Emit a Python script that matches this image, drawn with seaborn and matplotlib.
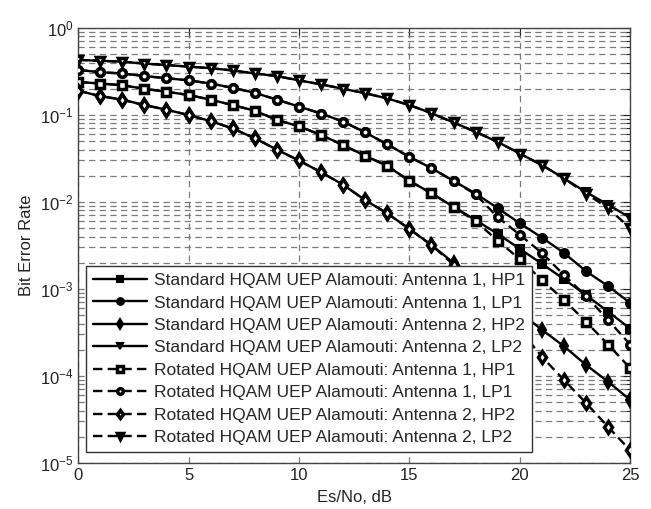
import matplotlib
matplotlib.use('Agg')
import matplotlib.pyplot as plt
import seaborn as sns
import pandas as pd
from matplotlib.ticker import LogLocator, NullFormatter


snr_db = list(range(26))

std_hp1 = [0.24, 0.23, 0.22, 0.20, 0.185, 0.17, 0.15, 0.13, 0.112, 0.088, 0.074, 0.059, 0.045,
           0.034, 0.026, 0.0175, 0.0126, 0.0088, 0.0062, 0.0043, 0.0029, 0.00195, 0.0013,
           0.00085, 0.00055, 0.00035]
std_lp1 = [0.33, 0.31, 0.30, 0.28, 0.265, 0.25, 0.23, 0.205, 0.18, 0.15, 0.125, 0.104, 0.084,
           0.063, 0.046, 0.033, 0.0245, 0.0175, 0.0125, 0.0085, 0.0057, 0.0039, 0.0026,
           0.0016, 0.00108, 0.00069]
std_hp2 = [0.19, 0.165, 0.15, 0.13, 0.115, 0.10, 0.085, 0.07, 0.054, 0.04, 0.030, 0.022, 0.0158,
           0.0105, 0.0074, 0.0049, 0.0032, 0.0020, 0.0013, 0.00083, 0.00054, 0.00034, 0.00022,
           0.000134, 0.000086, 0.000053]
std_lp2 = [0.43, 0.42, 0.41, 0.39, 0.375, 0.36, 0.345, 0.325, 0.30, 0.28, 0.25, 0.225, 0.20,
           0.178, 0.155, 0.13, 0.105, 0.082, 0.064, 0.049, 0.036, 0.0266, 0.0187, 0.013,
           0.0093, 0.0066]

rot_hp1 = [0.24, 0.23, 0.22, 0.20, 0.185, 0.17, 0.15, 0.13, 0.112, 0.088, 0.074, 0.059, 0.045,
           0.034, 0.026, 0.0175, 0.0126, 0.0088, 0.006, 0.0036, 0.0022, 0.00127, 0.00075,
           0.00042, 0.00023, 0.000123]
rot_lp1 = [0.33, 0.31, 0.30, 0.28, 0.265, 0.25, 0.23, 0.205, 0.18, 0.15, 0.125, 0.104, 0.084,
           0.063, 0.046, 0.033, 0.0245, 0.0175, 0.0122, 0.0067, 0.0042, 0.0026, 0.00145,
           0.00083, 0.00044, 0.00023]
rot_hp2 = [0.19, 0.165, 0.15, 0.13, 0.115, 0.10, 0.085, 0.07, 0.054, 0.04, 0.030, 0.022, 0.0158,
           0.0105, 0.0074, 0.0049, 0.0032, 0.0019, 0.0011, 0.00063, 0.00034, 0.000167, 0.00009,
           0.000049, 0.000026, 0.000014]
rot_lp2 = [0.43, 0.42, 0.41, 0.39, 0.375, 0.36, 0.345, 0.325, 0.30, 0.28, 0.25, 0.225, 0.20,
           0.178, 0.155, 0.13, 0.105, 0.082, 0.064, 0.049, 0.036, 0.0266, 0.0187, 0.0125,
           0.0085, 0.0050]

labels = ['Standard HQAM UEP Alamouti: Antenna 1, HP1',
          'Standard HQAM UEP Alamouti: Antenna 1, LP1',
          'Standard HQAM UEP Alamouti: Antenna 2, HP2',
          'Standard HQAM UEP Alamouti: Antenna 2, LP2',
          'Rotated HQAM UEP Alamouti: Antenna 1, HP1',
          'Rotated HQAM UEP Alamouti: Antenna 1, LP1',
          'Rotated HQAM UEP Alamouti: Antenna 2, HP2',
          'Rotated HQAM UEP Alamouti: Antenna 2, LP2']
series = [std_hp1, std_lp1, std_hp2, std_lp2, rot_hp1, rot_lp1, rot_hp2, rot_lp2]
marks = ['s', 'o', 'd', 'v'] * 2

sns.set_theme(style='white')
plt.rcParams['font.family'] = ['Liberation Sans', 'DejaVu Sans']
plt.rcParams['mathtext.default'] = 'regular'

fig = plt.figure(figsize=(6.51, 5.09), dpi=100)
ax = fig.add_axes([0.120, 0.0904, 0.848, 0.8546])

for i, (lab, ber) in enumerate(zip(labels, series)):
    rotated = i >= 4
    db = pd.DataFrame({'snr': snr_db, 'ber': ber})
    size = 7.0 if marks[i] == 'd' else 6.4
    sns.lineplot(data=db, x='snr', y='ber', ax=ax, color='black', errorbar=None,
                 marker=marks[i], markersize=size - 1.0 if rotated else size,
                 markerfacecolor='white' if rotated else 'black',
                 markeredgecolor='black', markeredgewidth=2.5 if rotated else 1.5,
                 linewidth=1.7, linestyle=(0, (4, 2.2)) if rotated else '-',
                 label=lab, zorder=3 + i)

ax.set_yscale('log')
ax.set_xlim(0, 25)
ax.set_ylim(1e-5, 1)
ax.set_xticks([0, 5, 10, 15, 20, 25])
ax.yaxis.set_major_locator(LogLocator(base=10, numticks=10))
ax.yaxis.set_minor_locator(LogLocator(base=10, subs=range(2, 10), numticks=20))
ax.yaxis.set_minor_formatter(NullFormatter())

grid_style = dict(color='#7a7a7a', linestyle=(0, (5, 3.5)), linewidth=0.9)
ax.grid(True, which='major', axis='x', **grid_style)
ax.grid(True, which='both', axis='y', **grid_style)

ax.tick_params(axis='both', which='both', direction='in', labelsize=12, colors='#222222',
               top=True, right=True)
ax.tick_params(axis='both', which='major', length=5, width=0.8)
ax.tick_params(axis='y', which='minor', length=3, width=0.8)
for sp in ax.spines.values():
    sp.set_color('#444444')
    sp.set_linewidth(1.0)

ax.set_xlabel('Es/No, dB', fontsize=12, color='#222222', labelpad=5)
ax.set_ylabel('Bit Error Rate', fontsize=12, color='#222222', labelpad=4)

leg = ax.legend(loc='lower left', bbox_to_anchor=(0.0145, 0.025), borderaxespad=0,
                fontsize=12.5, frameon=True, fancybox=False, framealpha=1,
                edgecolor='#333333', labelspacing=0.42, handlelength=3.1,
                handletextpad=0.4, borderpad=0.4, markerscale=0.75)
leg.get_frame().set_linewidth(1.0)
leg.set_zorder(20)

fig.savefig('out.png', dpi=100)
